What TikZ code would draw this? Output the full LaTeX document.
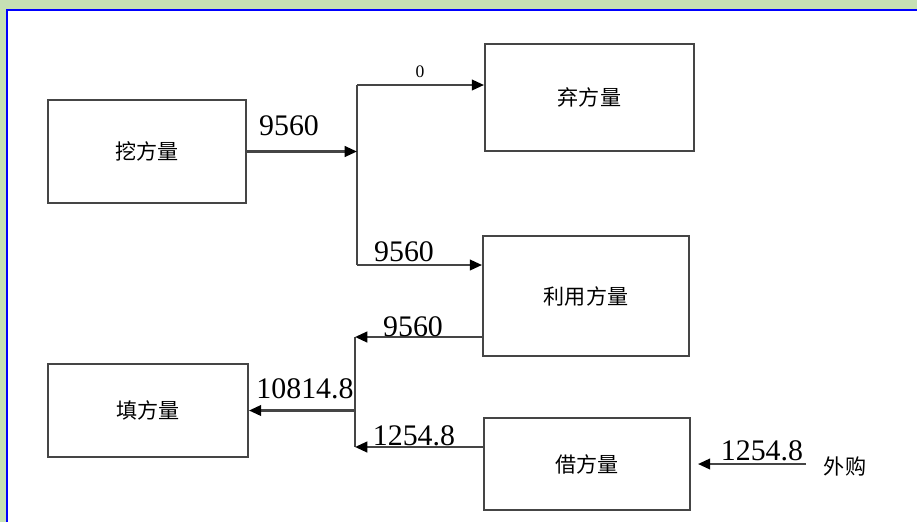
\documentclass[tikz,border=0pt]{standalone}
\usepackage{fontspec}
\setmainfont{Liberation Serif}
\newfontfamily\cjkfont{Noto Sans CJK SC}
\usetikzlibrary{arrows.meta,positioning}

\definecolor{framegreen}{HTML}{C6E0B4}
\definecolor{lineg}{HTML}{454545}

\begin{document}
\begin{tikzpicture}[x=0.02cm,y=-0.02cm,
  box/.style={draw=lineg,line width=1.1pt,fill=white,inner sep=0pt,font=\cjkfont\fontsize{12}{14}\selectfont},
  flow/.style={draw=lineg,line width=1.4pt,-{Triangle[length=7pt,width=6pt,fill=black,color=black]}},
  trunk/.style={draw=lineg,line width=1.4pt},
  num/.style={inner sep=0pt,font=\fontsize{17}{19}\selectfont},
  small/.style={inner sep=0pt,font=\fontsize{10}{12}\selectfont}]
\useasboundingbox (0,0) rectangle (917,522);
% frame
\fill[framegreen] (0,0) rectangle (917,522);
\fill[white] (7,10) rectangle (917,522);
\draw[blue,line width=1.6pt] (7,522) -- (7,10) -- (917,10);
% boxes
\node[box,minimum width=3.96cm,minimum height=2.06cm] (wa) at (147,151.5) {挖方量};
\node[box,minimum width=4.18cm,minimum height=2.14cm] (qi) at (589.5,97.5) {弃方量};
\node[box,minimum width=4.12cm,minimum height=2.4cm] (liyong) at (586,296) {利用方量};
\node[box,minimum width=4.0cm,minimum height=1.86cm] (tian) at (148,410.5) {填方量};
\node[box,minimum width=4.12cm,minimum height=1.84cm] (jie) at (587,464) {借方量};
% upper split
\coordinate (t1) at (357,85);
\coordinate (t2) at (357,265);
\draw[trunk] (t1) -- (t2);
\draw[flow] (wa.east) -- (wa.east -| t1);
\draw[flow] (t1) -- (t1 -| qi.west);
\draw[flow] (t2) -- (t2 -| liyong.west);
% lower merge
\coordinate (b1) at (355,337);
\coordinate (b2) at (355,447);
\draw[trunk] (b1) -- (b2);
\draw[flow] (b1 -| liyong.west) -- (b1);
\draw[flow] (b2 -| jie.west) -- (b2);
\draw[flow] (tian.east -| b1) -- (tian.east);
% outside purchase
\coordinate (src) at (806,464);
\draw[flow,shorten >=0.14cm] (src) -- (src -| jie.east);
% labels
\node[num] (lwa) at (289,126) {9560};
\node[small] (lqi) at (420,72) {0};
\node[num] (lly) at (404,252) {9560};
\node[num] (lback) at (413,327) {9560};
\node[num] (ltian) at (305,389) {10814.8};
\node[num] (ljie) at (414,436) {1254.8};
\node[num] (lbuy) at (762,451) {1254.8};
\node[inner sep=0pt,font=\cjkfont\fontsize{12}{14}\selectfont] (wg) at (845,466) {外购};
\end{tikzpicture}
\end{document}
